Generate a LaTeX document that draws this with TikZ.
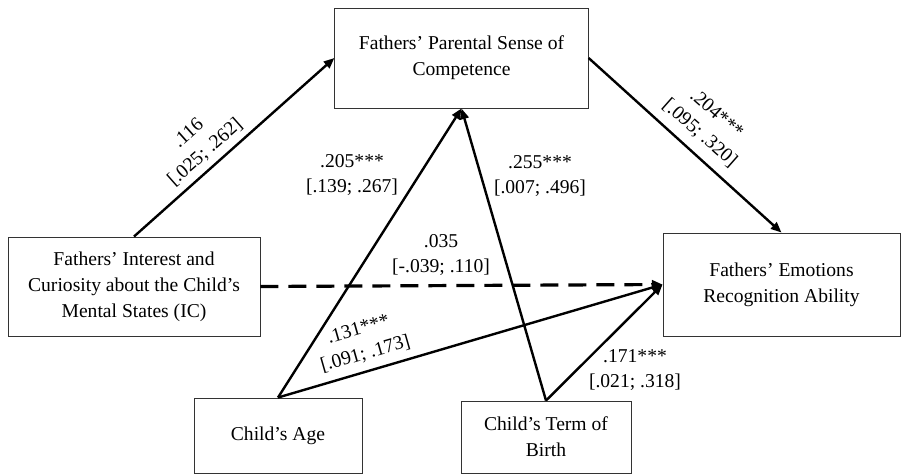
\documentclass[tikz,border=0pt]{standalone}
\usepackage{fontspec}
\setmainfont{Liberation Serif}
\usetikzlibrary{arrows.meta}

\begin{document}
\begin{tikzpicture}[x=0.75pt,y=0.75pt,yscale=-1,xscale=1,
	box/.style={draw=black!80,line width=0.7pt,align=center,inner sep=0pt,font=\fontsize{14.7}{19.5}\selectfont},
	link/.style={line width=1.8pt,-{Triangle[length=8pt,width=6.5pt]}},
	nolink/.style={line width=2.4pt,dash pattern={on 13.5pt off 7.5pt},-{Triangle[length=8pt,width=6.5pt]}},
	coef/.style={align=center,inner sep=0.75pt,font=\fontsize{14.7}{19}\selectfont}]
	\useasboundingbox (0,0) rectangle (907,475);
	% boxes
	\node [box,minimum width=190pt,minimum height=75pt] (psc) at (461.5,58) {Fathers’ Parental Sense of\\Competence};
	\node [box,minimum width=189pt,minimum height=74.25pt] (ic) at (134,286.5) {Fathers’ Interest and\\Curiosity about the Child’s\\Mental States (IC)};
	\node [box,minimum width=177.75pt,minimum height=77.25pt] (era) at (781.5,284.5) {Fathers’ Emotions\\Recognition Ability};
	\node [box,minimum width=126pt,minimum height=56.25pt] (age) at (278,435.5) {Child’s Age};
	\node [box,minimum width=127.5pt,minimum height=54pt] (term) at (546,437) {Child’s Term of\\Birth};
	% paths
	\draw [link] (ic.north) -- (psc.west);
	\draw [link] (psc.east) -- (era.north);
	\draw [nolink] (ic.east) -- (era.west);
	\draw [link] (age.north) -- (psc.south);
	\draw [link] (term.north) -- (psc.south);
	\draw [link] (age.north) -- (era.west);
	\draw [link] (term.north) -- (era.west);
	% coefficients
	\node [coef,rotate=41.5] (c116) at (197,143) {.116\\{[}.025; .262{]}};
	\node [coef,rotate=-41.5] (c204) at (708,124) {.204***\\{[}.095; .320{]}};
	\node [coef] (c205) at (352,175) {.205***\\{[}.139; .267{]}};
	\node [coef] (c255) at (540,176) {.255***\\{[}.007; .496{]}};
	\node [coef] (c035) at (441,255) {.035\\{[}-.039; .110{]}};
	\node [coef,rotate=16] (c131) at (362,342) {.131***\\{[}.091; .173{]}};
	\node [coef] (c171) at (635,370) {.171***\\{[}.021; .318{]}};
\end{tikzpicture}
\end{document}
